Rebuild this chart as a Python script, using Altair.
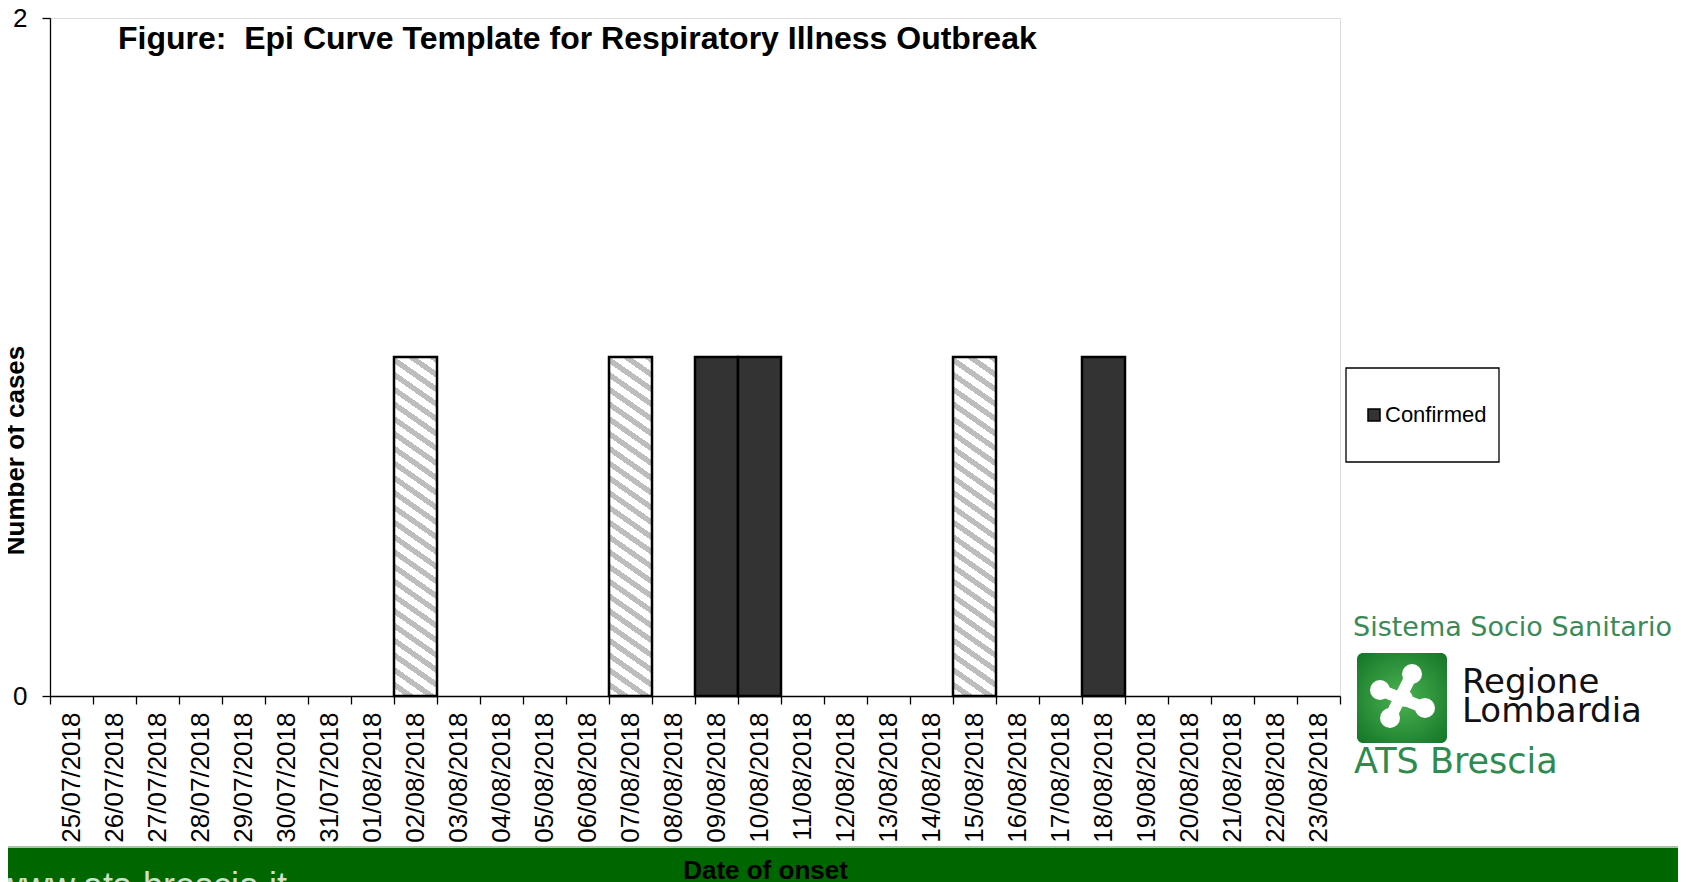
import altair as alt
import pandas as pd

# ---------------- data ----------------
dates = ["25/07/2018", "26/07/2018", "27/07/2018", "28/07/2018", "29/07/2018", "30/07/2018",
         "31/07/2018", "01/08/2018", "02/08/2018", "03/08/2018", "04/08/2018", "05/08/2018",
         "06/08/2018", "07/08/2018", "08/08/2018", "09/08/2018", "10/08/2018", "11/08/2018",
         "12/08/2018", "13/08/2018", "14/08/2018", "15/08/2018", "16/08/2018", "17/08/2018",
         "18/08/2018", "19/08/2018", "20/08/2018", "21/08/2018", "22/08/2018", "23/08/2018"]
confirmed = [0, 0, 0, 0, 0, 0, 0,
             0, 0, 0, 0, 0, 0, 0,
             0, 1, 1, 0, 0, 0, 0,
             0, 0, 0, 1, 0, 0, 0,
             0, 0]
probable = [0, 0, 0, 0, 0, 0, 0,
            0, 1, 0, 0, 0, 0, 1,
            0, 0, 0, 0, 0, 0, 0,
            1, 0, 0, 0, 0, 0, 0,
            0, 0]
y_ticks = [0, 1, 2]
legend_labels = ["Confirmed"]

df = pd.DataFrame({
    "date": dates * 2,
    "status": ["Confirmed"] * len(dates) + ["Probable"] * len(dates),
    "cases": confirmed + probable,
})
deco = pd.DataFrame({"k": [0]})

FONT = "Liberation Sans"

# ---------------- hatch fill (diagonal stripes via hard-stop gradient) ----------------
W, H, s = 43.0, 339.0, 0.7
k = (H + s * W) / (s * s * W * W + H * H)
n_stripes = 25
frac = 0.45
stops = []
for i in range(n_stripes):
    a = i / n_stripes
    b = (i + frac) / n_stripes
    c = (i + 1) / n_stripes
    stops += [alt.GradientStop(offset=a, color="#bdbdbd"),
              alt.GradientStop(offset=b, color="#bdbdbd"),
              alt.GradientStop(offset=b, color="#ffffff"),
              alt.GradientStop(offset=c, color="#ffffff")]
hatch = alt.LinearGradient(gradient="linear", stops=stops,
                           x1=1, y1=0, x2=1 - k * s * W, y2=k * H)

# ---------------- encodings ----------------
x_enc = alt.X(
    "date:N", sort=dates,
    scale=alt.Scale(domain=dates, paddingInner=0, paddingOuter=0),
    title="Date of onset",
    axis=alt.Axis(
        labelAngle=270, labelFont=FONT, labelFontSize=26, labelColor="black",
        labelPadding=8, labelOverlap=False, tickBand="extent", tickColor="black",
        tickSize=8, tickWidth=1.3, domainColor="black", domainWidth=1.3,
        titleFont=FONT, titleFontSize=26, titleFontWeight="bold", titleColor="black",
        titleX=715, titleY=182, titleAlign="center", titleBaseline="alphabetic",
        grid=False, zindex=1,
    ),
)
y_enc = alt.Y(
    "cases:Q",
    scale=alt.Scale(domain=[0, 2], nice=False),
    title="Number of cases",
    axis=alt.Axis(
        values=y_ticks, format="d", labelFont=FONT, labelFontSize=26, labelColor="black",
        labelPadding=15, tickColor="black", tickSize=8, tickWidth=1.3,
        domainColor="black", domainWidth=1.3,
        titleFont=FONT, titleFontSize=26, titleFontWeight="bold", titleColor="black",
        titleAngle=270, titleX=-27, titleY=432, titleAlign="center",
        titleBaseline="alphabetic", grid=False, zindex=1,
    ),
)

confirmed_bars = alt.Chart(df).transform_filter(
    "datum.status == 'Confirmed' && datum.cases > 0"
).mark_bar(stroke="black", strokeWidth=2.5).encode(
    x=x_enc, y=y_enc,
    color=alt.Color(
        "status:N",
        scale=alt.Scale(domain=legend_labels, range=["#333333"]),
        legend=alt.Legend(
            orient="none", legendX=1313, legendY=386, title=None, padding=0,
            symbolType="square", symbolSize=144, symbolStrokeColor="black",
            symbolStrokeWidth=1.5, labelFont=FONT, labelFontSize=22,
            labelColor="black", labelOffset=0,
        ),
    ),
)

probable_bars = alt.Chart(df).transform_filter(
    "datum.status == 'Probable' && datum.cases > 0"
).mark_bar(fill=hatch, stroke="black", strokeWidth=2.5).encode(x=x_enc, y=y_enc)

# ---------------- decorations ----------------
legend_box = alt.Chart(deco).mark_rect(fill="white", stroke="black", strokeWidth=1.3).encode(
    x=alt.value(1296), x2=alt.value(1449), y=alt.value(350), y2=alt.value(444))

band = alt.Chart(deco).mark_rect(fill="#006600").encode(
    x=alt.value(-60), x2=alt.value(1650), y=alt.value(830), y2=alt.value(880))
band_line = alt.Chart(deco).mark_rule(color="#a8c4a8", strokeWidth=2).encode(
    x=alt.value(-60), x2=alt.value(1650), y=alt.value(829))
url = alt.Chart(deco).mark_text(
    text="www.ats-brescia.it", font=FONT, fontSize=36, color="#cfe0cf",
    align="left", baseline="alphabetic").encode(x=alt.value(-53), y=alt.value(880))

logo_top = alt.Chart(deco).mark_text(
    text="Sistema Socio Sanitario", font="DejaVu Sans", fontSize=27, color="#3a8a58",
    align="left", baseline="alphabetic").encode(x=alt.value(1303), y=alt.value(618))
square = alt.Chart(deco).mark_rect(
    cornerRadius=6,
    fill=alt.RadialGradient(gradient="radial", x1=0.5, y1=0.5, r1=0, x2=0.5, y2=0.5, r2=0.75,
                            stops=[alt.GradientStop(offset=0, color="#4db352"),
                                   alt.GradientStop(offset=1, color="#0f7024")]),
).encode(x=alt.value(1307), x2=alt.value(1397), y=alt.value(635), y2=alt.value(725))
arm1 = alt.Chart(deco).mark_rule(color="white", strokeWidth=12, strokeCap="round").encode(
    x=alt.value(1362), x2=alt.value(1340), y=alt.value(656), y2=alt.value(700))
arm2 = alt.Chart(deco).mark_rule(color="white", strokeWidth=12, strokeCap="round").encode(
    x=alt.value(1330), x2=alt.value(1375), y=alt.value(672), y2=alt.value(690))
lobes = [
    alt.Chart(deco).mark_point(filled=True, shape="circle", color="white", opacity=1, size=sz).encode(
        x=alt.value(px), y=alt.value(py))
    for px, py, sz in [(1362, 656, 400), (1330, 672, 400), (1340, 700, 400), (1375, 690, 400),
                       (1354, 680, 300)]
]
reg1 = alt.Chart(deco).mark_text(
    text="Regione", font="DejaVu Sans", fontSize=34, color="#111111",
    align="left", baseline="alphabetic").encode(x=alt.value(1412), y=alt.value(675))
reg2 = alt.Chart(deco).mark_text(
    text="Lombardia", font="DejaVu Sans", fontSize=34, color="#111111",
    align="left", baseline="alphabetic").encode(x=alt.value(1412), y=alt.value(704))
ats = alt.Chart(deco).mark_text(
    text="ATS Brescia", font="DejaVu Sans", fontSize=35, color="#2e8b50",
    align="left", baseline="alphabetic").encode(x=alt.value(1304), y=alt.value(755))

chart = alt.layer(
    band, band_line, url, legend_box,
    logo_top, square, arm1, arm2, *lobes, reg1, reg2, ats,
    probable_bars, confirmed_bars,
).properties(
    width=1290, height=678,
    padding={"left": 42, "top": 10, "right": 338, "bottom": 186},
    autosize=alt.AutoSizeParams(type="none"),
    title=alt.TitleParams(
        "Figure:\u00a0 Epi Curve Template for Respiratory Illness Outbreak",
        anchor="start", frame="group", font=FONT, fontSize=32, fontWeight="bold",
        color="black", baseline="alphabetic", offset=0, dx=68, dy=76,
    ),
).configure_view(
    stroke="black", strokeWidth=1.3, fill="white"
).configure(font=FONT)

chart.save("out.html", embed_options={"renderer": "svg", "actions": False})
